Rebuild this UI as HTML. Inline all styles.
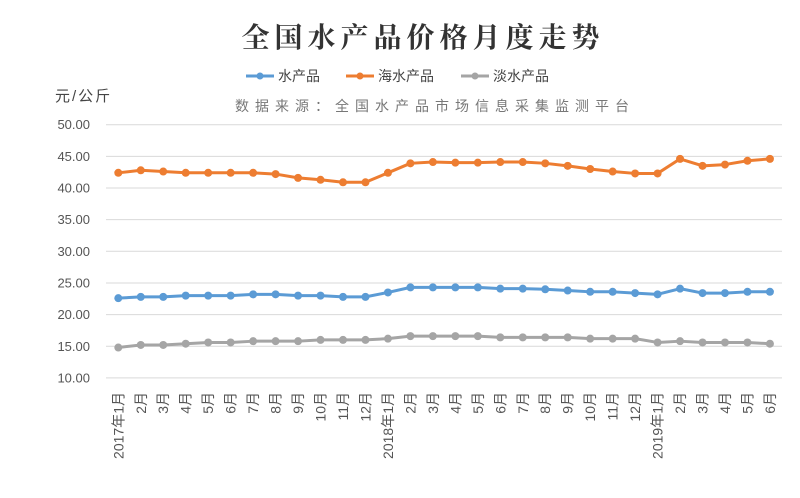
<!DOCTYPE html>
<html><head><meta charset="utf-8"><style>
body{margin:0;background:#fff;width:800px;height:493px;overflow:hidden}
svg text{font-family:"Liberation Sans","Noto Sans CJK SC",sans-serif}
</style></head><body>
<svg id="c" width="800" height="493" xmlns="http://www.w3.org/2000/svg">
<text x="423" y="47" text-anchor="middle" font-size="28" font-weight="bold" fill="#333" style="font-family:'Noto Serif CJK SC','Noto Sans CJK SC',serif;letter-spacing:5px">全国水产品价格月度走势</text>
<line x1="246" y1="76" x2="274" y2="76" stroke="#5b9bd5" stroke-width="3"/><circle cx="260" cy="76" r="3.5" fill="#5b9bd5"/>
<text x="278" y="81" font-size="14" fill="#444">水产品</text>
<line x1="346" y1="76" x2="374" y2="76" stroke="#ed7d31" stroke-width="3"/><circle cx="360" cy="76" r="3.5" fill="#ed7d31"/>
<text x="378" y="81" font-size="14" fill="#444">海水产品</text>
<line x1="461" y1="76" x2="489" y2="76" stroke="#a5a5a5" stroke-width="3"/><circle cx="475" cy="76" r="3.5" fill="#a5a5a5"/>
<text x="493" y="81" font-size="14" fill="#444">淡水产品</text>
<text x="55" y="101" font-size="15" fill="#444" style="letter-spacing:2px">元/公斤</text>
<text x="235" y="111" font-size="14" fill="#777" style="letter-spacing:6px">数据来源：全国水产品市场信息采集监测平台</text>
<g id="g"></g>
</svg>
<script>
var s=document.getElementById('g'),h='';
function Y(v){return 124.7+(50-v)*6.33}
function X(i){return 118.3+i*22.47}
for(var v=10;v<=50;v+=5){h+='<line x1="106" x2="782" y1="'+Y(v)+'" y2="'+Y(v)+'" stroke="#d9d9d9" stroke-width="1"/>';
h+='<text x="90" y="'+(Y(v)+4.5)+'" text-anchor="end" font-size="13" fill="#555">'+v.toFixed(2)+'</text>';}
var o=[42.4,42.8,42.6,42.4,42.4,42.4,42.4,42.2,41.6,41.3,40.9,40.9,42.4,43.9,44.1,44.0,44.0,44.1,44.1,43.9,43.5,43.0,42.6,42.3,42.3,44.6,43.5,43.7,44.3,44.6];
var b=[22.6,22.8,22.8,23.0,23.0,23.0,23.2,23.2,23.0,23.0,22.8,22.8,23.5,24.3,24.3,24.3,24.3,24.1,24.1,24.0,23.8,23.6,23.6,23.4,23.2,24.1,23.4,23.4,23.6,23.6];
var g=[14.8,15.2,15.2,15.4,15.6,15.6,15.8,15.8,15.8,16.0,16.0,16.0,16.2,16.6,16.6,16.6,16.6,16.4,16.4,16.4,16.4,16.2,16.2,16.2,15.6,15.8,15.6,15.6,15.6,15.4];
function ser(d,c){var p=d.map(function(v,i){return X(i)+','+Y(v)}).join(' ');
h+='<polyline points="'+p+'" fill="none" stroke="'+c+'" stroke-width="3" stroke-linejoin="round"/>';
d.forEach(function(v,i){h+='<circle cx="'+X(i)+'" cy="'+Y(v)+'" r="4" fill="'+c+'"/>'});}
ser(o,'#ed7d31');ser(b,'#5b9bd5');ser(g,'#a5a5a5');
for(var i=0;i<30;i++){var m=i%12+1,l=m+'月';if(i==0)l='2017年1月';if(i==12)l='2018年1月';if(i==24)l='2019年1月';
var x=X(i)+5;h+='<text transform="translate('+x+',392) rotate(-90)" text-anchor="end" font-size="14" fill="#555">'+l+'</text>';}
s.innerHTML=h;
</script>
</body></html>
